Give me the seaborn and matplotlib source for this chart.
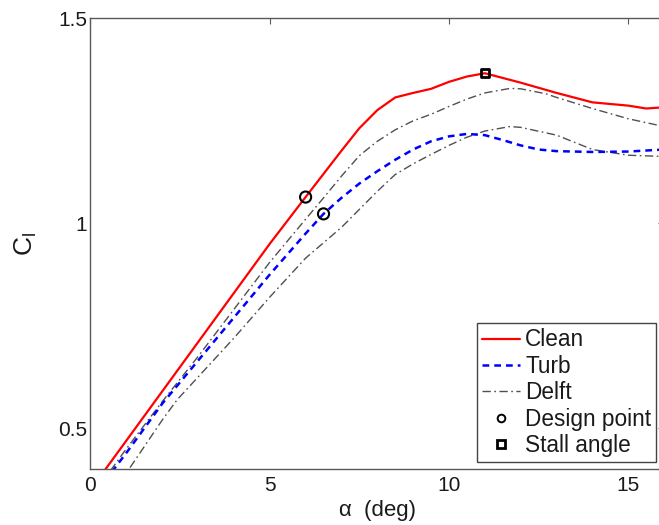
import numpy as np
import pandas as pd
import matplotlib
matplotlib.use("Agg")
import matplotlib.pyplot as plt
from matplotlib.lines import Line2D
import seaborn as sns

# ---- data ----
alpha_clean = [0, 1, 2, 3, 4, 5, 6, 7, 7.5, 8, 8.5, 9, 9.5, 10, 10.5, 11, 12, 13, 14, 15, 15.5, 16]
cl_clean = [0.35, 0.47, 0.59, 0.71, 0.83, 0.95, 1.064, 1.177, 1.232, 1.276, 1.307, 1.318, 1.328,
            1.345, 1.358, 1.366, 1.343, 1.318, 1.295, 1.287, 1.280, 1.283]

alpha_turb = [0, 0.65, 1, 2, 3, 4, 5, 5.5, 6, 6.5, 7, 7.5, 8, 8.5, 9, 9.5, 10, 10.5, 11, 11.5, 12,
              12.5, 13, 14, 15, 16]
cl_turb = [0.325, 0.40, 0.44, 0.56, 0.665, 0.77, 0.875, 0.925, 0.975, 1.023, 1.062, 1.097, 1.127,
           1.155, 1.180, 1.200, 1.212, 1.218, 1.215, 1.203, 1.190, 1.180, 1.176, 1.174, 1.175, 1.180]

alpha_delft_hi = [0, 1, 2, 3, 4, 5, 6, 6.5, 7, 7.5, 8, 8.5, 9, 9.5, 10, 10.5, 11, 11.7, 12, 12.7, 13,
                  14, 15, 16]
cl_delft_hi = [0.33, 0.45, 0.565, 0.675, 0.79, 0.905, 1.010, 1.062, 1.115, 1.165, 1.200, 1.228,
               1.250, 1.266, 1.285, 1.303, 1.318, 1.329, 1.328, 1.316, 1.307, 1.280, 1.255, 1.236]

alpha_delft_lo = [0, 1.07, 2, 2.42, 3, 4, 5, 6, 7, 8, 8.5, 9, 9.5, 10, 10.5, 11, 11.7, 12, 13, 14,
                  15, 16]
cl_delft_lo = [0.27, 0.40, 0.52, 0.57, 0.625, 0.72, 0.82, 0.915, 0.99, 1.078, 1.119, 1.145, 1.168,
               1.190, 1.210, 1.225, 1.236, 1.234, 1.215, 1.180, 1.166, 1.163]

design_alpha = [6.0, 6.5]
design_cl = [1.064, 1.023]
stall_alpha = [11.0]
stall_cl = [1.366]

series_labels = ["Clean", "Turb", "Delft", "Design point", "Stall angle"]

# ---- figure ----
sns.set_theme(style="white")
plt.rcParams["font.family"] = ["Liberation Sans", "DejaVu Sans"]
plt.rcParams["mathtext.default"] = "regular"

W, H = 659, 525
fig = plt.figure(figsize=(W / 100, H / 100), dpi=100)
x0_px, xr_px = 90.5, 90.5 + 16 * 35.85
ytop_px, ybot_px = 18.3, 469.3
ax = fig.add_axes([x0_px / W, 1 - ybot_px / H, (xr_px - x0_px) / W, (ybot_px - ytop_px) / H])

df_clean = pd.DataFrame({"a": alpha_clean, "cl": cl_clean})
df_turb = pd.DataFrame({"a": alpha_turb, "cl": cl_turb})
df_hi = pd.DataFrame({"a": alpha_delft_hi, "cl": cl_delft_hi})
df_lo = pd.DataFrame({"a": alpha_delft_lo, "cl": cl_delft_lo})

delft_color = "#505050"
delft_ls = (0, (6, 2.5, 1.2, 2.5))
turb_ls = (0, (2.7, 2.0))
sns.lineplot(data=df_hi, x="a", y="cl", ax=ax, color=delft_color, lw=1.0, sort=False,
             linestyle=delft_ls)
sns.lineplot(data=df_lo, x="a", y="cl", ax=ax, color=delft_color, lw=1.0, sort=False,
             linestyle=delft_ls)
sns.lineplot(data=df_turb, x="a", y="cl", ax=ax, color="#0000ff", lw=1.8, sort=False,
             linestyle=turb_ls)
sns.lineplot(data=df_clean, x="a", y="cl", ax=ax, color="#ff0000", lw=1.6, sort=False)

sns.scatterplot(x=design_alpha, y=design_cl, ax=ax, marker="o", s=64, facecolors="none",
                edgecolors="black", linewidths=1.5, zorder=5)
sns.scatterplot(x=stall_alpha, y=stall_cl, ax=ax, marker="s", s=36, facecolors="none",
                edgecolors="black", linewidths=2.0, zorder=5)

ax.set_xlim(0, 16)
ax.set_ylim(0.4, 1.5)
ax.set_xticks([0, 5, 10, 15])
ax.set_xticklabels(["0", "5", "10", "15"])
ax.set_yticks([0.5, 1.0, 1.5])
ax.set_yticklabels(["0.5", "1", "1.5"])

spine_col = "#5a5a5a"
for s in ax.spines.values():
    s.set_color(spine_col)
    s.set_linewidth(1.0)
    s.set_visible(True)
ax.tick_params(direction="in", length=4, width=0.8, color=spine_col, top=True, right=True,
               labelsize=15, labelcolor="#1a1a1a")
ax.tick_params(axis="x", pad=4.5)
ax.tick_params(axis="y", pad=2.5)

ax.set_xlabel("α  (deg)", fontsize=16, color="#1a1a1a", labelpad=4)
ax.set_ylabel("$C_l$", fontsize=19, color="#1a1a1a")
ax.yaxis.set_label_coords(-0.09, 0.5)

handles = [
    Line2D([], [], color="#ff0000", lw=1.6),
    Line2D([], [], color="#0000ff", lw=1.8, linestyle=turb_ls),
    Line2D([], [], color=delft_color, lw=1.0, linestyle=delft_ls),
    Line2D([], [], marker="o", ls="none", markerfacecolor="none", markeredgecolor="black",
           markersize=5.5, markeredgewidth=1.4),
    Line2D([], [], marker="s", ls="none", markerfacecolor="none", markeredgecolor="black",
           markersize=5.5, markeredgewidth=2.0),
]
leg = ax.legend(handles, series_labels, loc="lower right",
                bbox_to_anchor=(656 / W, 1 - 462 / H), bbox_transform=fig.transFigure,
                borderaxespad=0, frameon=True, fancybox=False, framealpha=1, fontsize=16.3,
                handlelength=1.68, handletextpad=0.22, labelspacing=0.15, borderpad=0.22)
leg.get_frame().set_edgecolor("#444444")
leg.get_frame().set_linewidth(1.0)
for t in leg.get_texts():
    t.set_color("#1a1a1a")

fig.savefig("out.png", dpi=100)
